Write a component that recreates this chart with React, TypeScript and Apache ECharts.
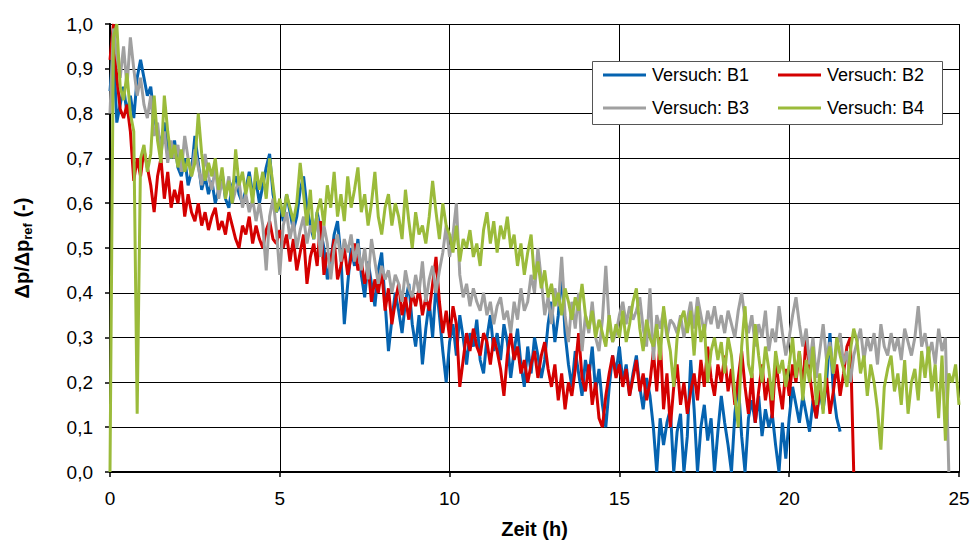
import React, { useEffect, useRef } from "react";
import * as echarts from "echarts";

// Sampling step of the recorded series (hours)
const T_STEP = 0.1;

const X_TICKS = [0, 5, 10, 15, 20, 25];
const Y_TICKS = [0, 0.1, 0.2, 0.3, 0.4, 0.5, 0.6, 0.7, 0.8, 0.9, 1.0];

const SERIES_NAMES = ["Versuch: B1", "Versuch: B2", "Versuch: B3", "Versuch: B4"];

// Versuch B1 (t = 0 … 21.5 h)
const B1 = [
  0.85, 0.95, 0.78, 0.82, 0.86, 0.80, 0.84, 0.79, 0.88, 0.92,
  0.88, 0.84, 0.86, 0.79, 0.76, 0.73, 0.78, 0.72, 0.70, 0.74,
  0.68, 0.66, 0.70, 0.64, 0.67, 0.75, 0.69, 0.63, 0.66, 0.62,
  0.65, 0.60, 0.63, 0.67, 0.61, 0.59, 0.64, 0.66, 0.62, 0.60,
  0.63, 0.67, 0.62, 0.65, 0.60, 0.64, 0.68, 0.71, 0.62, 0.58,
  0.60, 0.56, 0.62, 0.58, 0.54, 0.57, 0.63, 0.66, 0.59, 0.55,
  0.52, 0.58, 0.54, 0.50, 0.43, 0.47, 0.53, 0.56, 0.48, 0.33,
  0.42, 0.50, 0.46, 0.52, 0.44, 0.39, 0.47, 0.42, 0.37, 0.45,
  0.49, 0.38, 0.27, 0.34, 0.40, 0.36, 0.31, 0.38, 0.42, 0.33,
  0.28, 0.35, 0.24, 0.32, 0.38, 0.30, 0.42, 0.35, 0.27, 0.20,
  0.29, 0.33, 0.26, 0.35, 0.30, 0.24, 0.31, 0.28, 0.34, 0.25,
  0.22, 0.30, 0.35, 0.27, 0.31, 0.25, 0.33, 0.29, 0.21, 0.27,
  0.32, 0.24, 0.19, 0.28, 0.22, 0.30, 0.26, 0.21, 0.25, 0.33,
  0.38, 0.29, 0.35, 0.45, 0.31, 0.24, 0.19, 0.27, 0.22, 0.17,
  0.25, 0.21, 0.28, 0.18, 0.23, 0.15, 0.10, 0.19, 0.26, 0.22,
  0.28, 0.20, 0.24, 0.17, 0.22, 0.26, 0.19, 0.14, 0.21, 0.17,
  0.10, 0.00, 0.12, 0.06, 0.11, 0.14, 0.00, 0.09, 0.13, 0.00,
  0.08, 0.25, 0.14, 0.00, 0.10, 0.15, 0.07, 0.12, 0.00, 0.09,
  0.17, 0.11, 0.06, 0.00, 0.13, 0.20, 0.08, 0.00, 0.12, 0.16,
  0.11, 0.17, 0.08, 0.14, 0.10, 0.13, 0.06, 0.00, 0.11, 0.03,
  0.12, 0.19, 0.15, 0.11, 0.17, 0.13, 0.09, 0.16, 0.12, 0.18,
  0.14, 0.20, 0.31, 0.18, 0.12, 0.09,
];

// Versuch B2 (t = 0 … 21.9 h)
const B2 = [
  0.92, 1.00, 0.88, 0.81, 0.79, 0.82, 0.76, 0.65, 0.70, 0.66,
  0.72, 0.68, 0.64, 0.58, 0.66, 0.70, 0.61, 0.67, 0.59, 0.63,
  0.60, 0.65, 0.57, 0.62, 0.58, 0.56, 0.60, 0.55, 0.58, 0.54,
  0.57, 0.59, 0.54, 0.56, 0.53, 0.58, 0.55, 0.52, 0.50, 0.55,
  0.53, 0.57, 0.51, 0.55, 0.52, 0.50, 0.54, 0.56, 0.52, 0.51,
  0.54, 0.50, 0.53, 0.47, 0.52, 0.45, 0.49, 0.53, 0.42, 0.48,
  0.51, 0.46, 0.56, 0.44, 0.49, 0.47, 0.52, 0.43, 0.46, 0.50,
  0.44, 0.48, 0.51, 0.45, 0.47, 0.42, 0.46, 0.38, 0.43, 0.40,
  0.45, 0.36, 0.41, 0.33, 0.38, 0.42, 0.35, 0.39, 0.34, 0.40,
  0.37, 0.41, 0.35, 0.39, 0.36, 0.42, 0.48, 0.38, 0.31, 0.36,
  0.30, 0.37, 0.33, 0.19, 0.25, 0.31, 0.27, 0.32, 0.28, 0.26,
  0.31, 0.29, 0.24, 0.30, 0.27, 0.23, 0.17, 0.26, 0.31, 0.25,
  0.28, 0.22, 0.25, 0.20, 0.24, 0.27, 0.21, 0.26, 0.29, 0.23,
  0.19, 0.24, 0.16, 0.22, 0.14, 0.20, 0.17, 0.23, 0.31, 0.21,
  0.18, 0.24, 0.15, 0.20, 0.12, 0.10, 0.17, 0.22, 0.26, 0.21,
  0.24, 0.19, 0.23, 0.17, 0.21, 0.25, 0.18, 0.22, 0.16, 0.20,
  0.27, 0.18, 0.30, 0.14, 0.22, 0.10, 0.19, 0.24, 0.15, 0.20,
  0.13, 0.18, 0.22, 0.16, 0.25, 0.19, 0.28, 0.21, 0.17, 0.24,
  0.20, 0.26, 0.18, 0.23, 0.15, 0.21, 0.27, 0.19, 0.13, 0.22,
  0.11, 0.18, 0.24, 0.16, 0.21, 0.12, 0.25, 0.19, 0.14, 0.23,
  0.17, 0.24, 0.20, 0.27, 0.18, 0.31, 0.22, 0.16, 0.12, 0.19,
  0.15, 0.21, 0.13, 0.18, 0.24, 0.17, 0.22, 0.28, 0.30, 0.00,
];

// Versuch B3 (t = 0 … 24.7 h)
const B3 = [
  0.80, 0.99, 0.93, 0.88, 0.95, 0.86, 0.97, 0.90, 0.84, 0.88,
  0.82, 0.79, 0.84, 0.75, 0.78, 0.71, 0.76, 0.69, 0.74, 0.70,
  0.73, 0.67, 0.75, 0.70, 0.66, 0.72, 0.68, 0.64, 0.71, 0.66,
  0.63, 0.68, 0.61, 0.65, 0.62, 0.66, 0.60, 0.63, 0.65, 0.59,
  0.62, 0.58, 0.61, 0.56, 0.60, 0.55, 0.45, 0.57, 0.61, 0.54,
  0.44, 0.55, 0.58, 0.52, 0.56, 0.50, 0.54, 0.57, 0.51, 0.55,
  0.53, 0.57, 0.48, 0.55, 0.51, 0.43, 0.50, 0.53, 0.47, 0.52,
  0.49, 0.53, 0.47, 0.51, 0.45, 0.50, 0.43, 0.52, 0.47, 0.42,
  0.46, 0.43, 0.45, 0.40, 0.44, 0.42, 0.38, 0.45, 0.41, 0.39,
  0.44, 0.40, 0.47, 0.38, 0.43, 0.46, 0.40, 0.45, 0.49, 0.55,
  0.48, 0.53, 0.60, 0.44, 0.39, 0.42, 0.37, 0.41, 0.38, 0.36,
  0.40, 0.35, 0.38, 0.33, 0.37, 0.39, 0.34, 0.36, 0.31, 0.38,
  0.34, 0.41, 0.36, 0.38, 0.44, 0.40, 0.50, 0.43, 0.35, 0.39,
  0.33, 0.41, 0.37, 0.48, 0.35, 0.29, 0.38, 0.32, 0.40, 0.27,
  0.35, 0.31, 0.38, 0.30, 0.27, 0.34, 0.46, 0.33, 0.29, 0.31,
  0.35, 0.38, 0.33, 0.37, 0.34, 0.36, 0.39, 0.32, 0.28, 0.41,
  0.25, 0.35, 0.32, 0.36, 0.30, 0.34, 0.33, 0.31, 0.35, 0.30,
  0.34, 0.38, 0.32, 0.39, 0.35, 0.31, 0.36, 0.33, 0.37, 0.32,
  0.35, 0.31, 0.36, 0.33, 0.30, 0.36, 0.40, 0.34, 0.31, 0.35,
  0.28, 0.33, 0.30, 0.36, 0.27, 0.32, 0.29, 0.37, 0.31, 0.26,
  0.30, 0.35, 0.39, 0.33, 0.28, 0.32, 0.24, 0.30, 0.21, 0.27,
  0.33, 0.25, 0.29, 0.22, 0.28, 0.31, 0.24, 0.27, 0.20, 0.26,
  0.29, 0.32, 0.25, 0.30, 0.27, 0.31, 0.24, 0.33, 0.28, 0.26,
  0.31, 0.27, 0.30, 0.25, 0.32, 0.29, 0.26, 0.30, 0.37, 0.28,
  0.31, 0.26, 0.29, 0.24, 0.32, 0.27, 0.30, 0.00,
];

// Versuch B4 (t = 0 … 25 h)
const B4 = [
  0.00, 0.97, 1.00, 0.86, 0.83, 0.89, 0.80, 0.76, 0.13, 0.70,
  0.73, 0.67, 0.71, 0.84, 0.74, 0.69, 0.84, 0.76, 0.70, 0.73,
  0.68, 0.72, 0.67, 0.70, 0.66, 0.69, 0.80, 0.71, 0.65, 0.69,
  0.66, 0.70, 0.63, 0.68, 0.61, 0.65, 0.60, 0.72, 0.64, 0.67,
  0.62, 0.66, 0.60, 0.68, 0.63, 0.67, 0.61, 0.70, 0.64, 0.58,
  0.61, 0.57, 0.62, 0.59, 0.56, 0.60, 0.69, 0.62, 0.55, 0.63,
  0.52, 0.58, 0.61, 0.55, 0.64, 0.59, 0.67, 0.57, 0.62, 0.56,
  0.66, 0.59, 0.63, 0.68, 0.58, 0.62, 0.55, 0.60, 0.67, 0.57,
  0.53, 0.59, 0.62, 0.55, 0.60, 0.57, 0.52, 0.63, 0.56, 0.50,
  0.58, 0.53, 0.55, 0.51, 0.57, 0.65, 0.58, 0.52, 0.60, 0.55,
  0.53, 0.49, 0.55, 0.47, 0.52, 0.50, 0.54, 0.48, 0.51, 0.46,
  0.54, 0.58, 0.51, 0.56, 0.49, 0.55, 0.52, 0.57, 0.50, 0.53,
  0.46, 0.51, 0.44, 0.49, 0.53, 0.43, 0.47, 0.41, 0.45, 0.39,
  0.42, 0.37, 0.40, 0.35, 0.41, 0.38, 0.34, 0.39, 0.36, 0.42,
  0.35, 0.32, 0.36, 0.30, 0.34, 0.31, 0.28, 0.35, 0.29, 0.33,
  0.30, 0.36, 0.29, 0.33, 0.38, 0.41, 0.32, 0.27, 0.34, 0.30,
  0.28, 0.33, 0.25, 0.37, 0.31, 0.27, 0.19, 0.30, 0.34, 0.36,
  0.31, 0.36, 0.26, 0.37, 0.29, 0.33, 0.20, 0.27, 0.30, 0.25,
  0.29, 0.22, 0.30, 0.26, 0.17, 0.10, 0.28, 0.37, 0.24, 0.21,
  0.33, 0.26, 0.20, 0.28, 0.23, 0.16, 0.27, 0.22, 0.25, 0.19,
  0.24, 0.30, 0.21, 0.27, 0.16, 0.25, 0.20, 0.28, 0.15, 0.22,
  0.13, 0.25, 0.28, 0.22, 0.30, 0.26, 0.23, 0.19, 0.27, 0.32,
  0.29, 0.22, 0.26, 0.17, 0.24, 0.20, 0.14, 0.05, 0.19, 0.23,
  0.26, 0.18, 0.22, 0.15, 0.25, 0.13, 0.20, 0.23, 0.16, 0.27,
  0.21, 0.28, 0.18, 0.24, 0.12, 0.26, 0.07, 0.22, 0.20, 0.24,
  0.15,
];

const COLORS = ["#0563b0", "#d40000", "#a0a0a0", "#9bbb3b"];
const FONT = "'Liberation Sans', Arial, sans-serif";

const toPairs = (vals: number[]) => vals.map((v, i) => [Math.round(i * T_STEP * 100) / 100, v]);

export default function App() {
  const ref = useRef<HTMLDivElement>(null);

  useEffect(() => {
    if (!ref.current) return;
    const chart = echarts.init(ref.current, undefined, { renderer: "svg" });
    const seriesData = [B1, B2, B3, B4];

    const legendPos = [
      { left: 603, top: 66 },
      { left: 778, top: 66 },
      { left: 603, top: 99 },
      { left: 778, top: 99 },
    ];

    chart.setOption({
      animation: false,
      backgroundColor: "#ffffff",
      grid: { left: 110, right: 16, top: 24, bottom: 69, containLabel: false },
      xAxis: {
        type: "value",
        min: X_TICKS[0],
        max: X_TICKS[X_TICKS.length - 1],
        interval: 5,
        name: "Zeit (h)",
        nameLocation: "middle",
        nameGap: 47,
        nameTextStyle: { fontFamily: FONT, fontSize: 20, fontWeight: "bold", color: "#000" },
        axisLine: { show: true, onZero: false, lineStyle: { color: "#000", width: 2 } },
        axisTick: { show: true, length: 5, lineStyle: { color: "#000", width: 1.5 } },
        axisLabel: { fontFamily: FONT, fontSize: 19, color: "#000", margin: 17 },
        splitLine: { show: true, lineStyle: { color: "#000", width: 1 } },
      },
      yAxis: {
        type: "value",
        min: Y_TICKS[0],
        max: Y_TICKS[Y_TICKS.length - 1],
        interval: 0.1,
        name: "{a|Δp/Δp}{b|ref}{a| (-)}",
        nameLocation: "middle",
        nameGap: 76,
        nameRotate: 90,
        nameTextStyle: {
          color: "#000",
          rich: {
            a: { fontFamily: FONT, fontSize: 20, fontWeight: "bold", color: "#000", lineHeight: 24 },
            b: {
              fontFamily: FONT,
              fontSize: 13,
              fontWeight: "bold",
              color: "#000",
              lineHeight: 13,
              verticalAlign: "bottom",
            },
          },
        },
        axisLine: { show: true, lineStyle: { color: "#000", width: 2 } },
        axisTick: { show: true, length: 5, lineStyle: { color: "#000", width: 1.5 } },
        axisLabel: {
          fontFamily: FONT,
          fontSize: 19,
          color: "#000",
          margin: 17,
          formatter: (v: number) => v.toFixed(1).replace(".", ","),
        },
        splitLine: { show: true, lineStyle: { color: "#000", width: 1 } },
      },
      legend: SERIES_NAMES.map((n, i) => ({
        data: [n],
        left: legendPos[i].left,
        top: legendPos[i].top,
        icon: "rect",
        itemWidth: 43,
        itemHeight: 3,
        itemGap: 0,
        padding: 0,
        selectedMode: false,
        textStyle: { fontFamily: FONT, fontSize: 18, color: "#000", padding: [0, 0, 0, 1] },
      })),
      graphic: [
        {
          type: "rect",
          left: 592,
          top: 61,
          z: 3,
          shape: { width: 350, height: 63 },
          style: { fill: "#ffffff", stroke: "#555555", lineWidth: 1 },
        },
      ],
      series: seriesData.map((vals, i) => ({
        name: SERIES_NAMES[i],
        type: "line",
        data: toPairs(vals),
        showSymbol: false,
        symbol: "none",
        clip: true,
        lineStyle: { color: COLORS[i], width: 3 },
        itemStyle: { color: COLORS[i] },
        z: 2 + i * 0.01,
      })),
    });

    return () => chart.dispose();
  }, []);

  return (
    <div
      ref={ref}
      style={{ position: "fixed", left: 0, top: 0, width: 975, height: 544, background: "#fff" }}
    />
  );
}
